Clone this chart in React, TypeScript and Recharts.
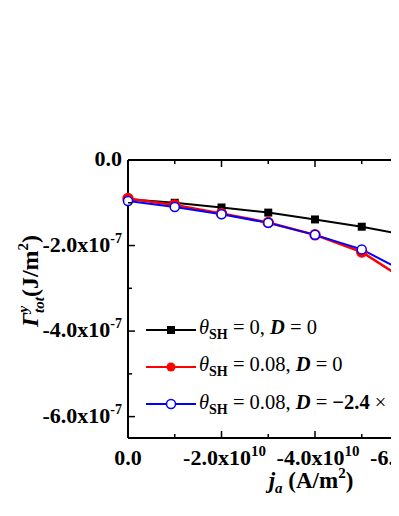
import React from "react";
import { LineChart, Line, XAxis, YAxis, Legend, Label } from "recharts";

// current density j_a (A/m^2)
const currents = [0, -1e10, -2e10, -3e10, -4e10, -5e10, -6e10];
// total energy, theta_SH = 0, D = 0
const noSpinHall = [-0.92e-7, -1.0e-7, -1.11e-7, -1.23e-7, -1.39e-7, -1.56e-7, -1.77e-7];
// theta_SH = 0.08, D = 0
const spinHall = [-0.9e-7, -1.05e-7, -1.25e-7, -1.46e-7, -1.75e-7, -2.15e-7, -2.85e-7];
// theta_SH = 0.08, D = -2.4 x 10^-3
const spinHallDmi = [-0.96e-7, -1.1e-7, -1.27e-7, -1.47e-7, -1.75e-7, -2.09e-7, -2.66e-7];

const xTicks = [0, -1e10, -2e10, -3e10, -4e10, -5e10, -6e10, -7e10, -8e10];
const yTicks = [0, -1e-7, -2e-7, -3e-7, -4e-7, -5e-7, -6e-7];

const data = currents.map((j, i) => ({
  j,
  a: noSpinHall[i],
  b: spinHall[i],
  c: spinHallDmi[i],
}));

const FONT = "'Liberation Serif', 'Times New Roman', serif";

const series = [
  { key: "a", color: "#000000", theta: "0", d: "0", marker: "square" },
  { key: "b", color: "#ff0000", theta: "0.08", d: "0", marker: "dot" },
  { key: "c", color: "#0000ff", theta: "0.08", d: "\u22122.4", marker: "open" },
];

function BottomTick(props: any) {
  const { x, y, payload } = props;
  const m = Math.round(payload.value / 1e10);
  const major = m % 2 === 0;
  return (
    <g>
      <line x1={x} x2={x} y1={y} y2={y - (major ? 7 : 4)} stroke="#000" strokeWidth={1.5} />
      {major && (
        <text x={x + 3} y={y + 27} textAnchor="middle" fontFamily={FONT} fontWeight="bold" fontSize={22} fill="#000">
          {m === 0 ? (
            <tspan dx={-3}>0.0</tspan>
          ) : (
            <>
              <tspan>{`${m.toFixed(1)}x10`}</tspan>
              <tspan dy={-9} fontSize={15}>10</tspan>
            </>
          )}
        </text>
      )}
    </g>
  );
}

function TopTick(props: any) {
  const { x, y, payload } = props;
  const major = Math.round(payload.value / 1e10) % 2 === 0;
  return <line x1={x} x2={x} y1={y} y2={y + (major ? 7 : 4)} stroke="#000" strokeWidth={1.5} />;
}

function LeftTick(props: any) {
  const { x, y, payload } = props;
  const m = Math.round(payload.value / 1e-7);
  const major = m % 2 === 0;
  return (
    <g>
      <line x1={x} x2={x + (major ? 7 : 4)} y1={y} y2={y} stroke="#000" strokeWidth={1.5} />
      {major && (
        <text x={x - 6} y={y + 6} textAnchor="end" fontFamily={FONT} fontWeight="bold" fontSize={22} fill="#000">
          {m === 0 ? (
            "0.0"
          ) : (
            <>
              <tspan>{`${m.toFixed(1)}x10`}</tspan>
              <tspan dy={-9} fontSize={14}>-7</tspan>
            </>
          )}
        </text>
      )}
    </g>
  );
}

function SquareDot(props: any) {
  const { cx, cy, index } = props;
  return <rect key={`sq-${index}`} x={cx - 4} y={cy - 4} width={8} height={8} fill="#000" />;
}

function LegendIcon({ color, marker }: { color: string; marker: string }) {
  return (
    <svg width={52} height={14} style={{ verticalAlign: "middle" }}>
      <line x1={1} x2={51} y1={7} y2={7} stroke={color} strokeWidth={2} />
      {marker === "square" && <rect x={22} y={3} width={8} height={8} fill={color} />}
      {marker === "dot" && <circle cx={26} cy={7} r={4.5} fill={color} />}
      {marker === "open" && <circle cx={26} cy={7} r={4.5} fill="#fff" stroke={color} strokeWidth={1.5} />}
    </svg>
  );
}

function LegendBox() {
  return (
    <div style={{ fontFamily: FONT, fontSize: 20.5, color: "#000", whiteSpace: "nowrap" }}>
      {series.map((s) => (
        <div key={s.key} style={{ height: 37, display: "flex", alignItems: "center" }}>
          <LegendIcon color={s.color} marker={s.marker} />
          <span style={{ marginLeft: 2 }}>
            <i>θ</i>
            <sub style={{ fontWeight: "bold", fontSize: 14 }}>SH</sub> = {s.theta}, <b><i>D</i></b> ={" "}
            {s.key === "c" ? (
              <>
                <b>{s.d}</b> × 10<sup style={{ fontSize: 13 }}>−3</sup> J/m<sup style={{ fontSize: 13 }}>2</sup>
              </>
            ) : (
              s.d
            )}
          </span>
        </div>
      ))}
    </div>
  );
}

function YTitle(props: any) {
  const { viewBox } = props;
  const cx = viewBox.x + 10;
  const cy = viewBox.y + viewBox.height / 2 - 18;
  return (
    <text
      x={cx}
      y={cy}
      transform={`rotate(-90 ${cx} ${cy})`}
      textAnchor="middle"
      fontFamily={FONT}
      fontWeight="bold"
      fontSize={24}
      fill="#000"
    >
      <tspan fontStyle="italic">Γ</tspan>
      <tspan fontStyle="italic" fontSize={15} dy={-10}>y</tspan>
      <tspan fontStyle="italic" fontSize={15} dx={-7} dy={16}>tot</tspan>
      <tspan dy={-6}>(J/m</tspan>
      <tspan fontSize={15} dy={-10}>2</tspan>
      <tspan dy={10}>)</tspan>
    </text>
  );
}

function XTitle(props: any) {
  const { viewBox } = props;
  const cx = viewBox.x + viewBox.width / 2 - 4;
  const cy = viewBox.y + 50;
  return (
    <text x={cx} y={cy} textAnchor="middle" fontFamily={FONT} fontWeight="bold" fontSize={23} fill="#000">
      <tspan fontStyle="italic">j</tspan>
      <tspan fontStyle="italic" fontSize={15} dy={5}>a</tspan>
      <tspan dy={-5}> (A/m</tspan>
      <tspan fontSize={15} dy={-10}>2</tspan>
      <tspan dy={10}>)</tspan>
    </text>
  );
}

export default function App() {
  return (
    <div style={{ width: 391, height: 508, overflow: "hidden", position: "relative" }}>
      <LineChart width={520} height={500} data={data} margin={{ top: 150, right: 26, left: 20, bottom: 10 }}>
        <XAxis
          xAxisId="bottom"
          dataKey="j"
          type="number"
          domain={[-8e10, 0]}
          reversed
          ticks={xTicks}
          interval={0}
          height={60}
          tickSize={0}
          tickMargin={0}
          tickLine={false}
          axisLine={{ stroke: "#000", strokeWidth: 2 }}
          tick={<BottomTick />}
        >
          <Label content={<XTitle />} />
        </XAxis>
        <XAxis
          xAxisId="top"
          orientation="top"
          dataKey="j"
          type="number"
          domain={[-8e10, 0]}
          reversed
          ticks={xTicks}
          interval={0}
          height={2}
          tickSize={0}
          tickMargin={0}
          tickLine={false}
          axisLine={{ stroke: "#000", strokeWidth: 2 }}
          tick={<TopTick />}
        />
        <YAxis
          type="number"
          domain={[-6.5e-7, 0]}
          ticks={yTicks}
          interval={0}
          width={100}
          tickSize={0}
          tickMargin={0}
          tickLine={false}
          axisLine={{ stroke: "#000", strokeWidth: 2 }}
          tick={<LeftTick />}
        >
          <Label content={<YTitle />} />
        </YAxis>
        <Legend
          layout="horizontal"
          verticalAlign="middle"
          align="center"
          content={<LegendBox />}
          wrapperStyle={{ left: 137, top: 303, width: "auto" }}
        />
        <Line
          xAxisId="bottom"
          dataKey="a"
          stroke="#000"
          strokeWidth={2}
          dot={<SquareDot />}
          isAnimationActive={false}
        />
        <Line
          xAxisId="bottom"
          dataKey="b"
          stroke="#ff0000"
          strokeWidth={2.5}
          dot={{ r: 4.5, fill: "#ff0000", stroke: "#ff0000" }}
          isAnimationActive={false}
        />
        <Line
          xAxisId="bottom"
          dataKey="c"
          stroke="#0000ff"
          strokeWidth={2}
          dot={{ r: 4.5, fill: "#fff", stroke: "#0000ff", strokeWidth: 1.5 }}
          isAnimationActive={false}
        />
      </LineChart>
    </div>
  );
}
